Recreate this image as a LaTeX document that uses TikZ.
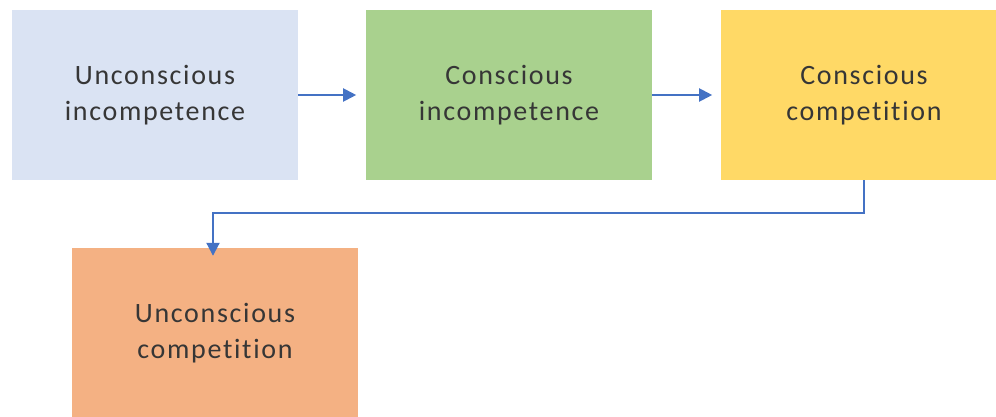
\documentclass[tikz,border=0pt]{standalone}
\usepackage{fontspec}
\setmainfont{Carlito}[LetterSpace=6,Ligatures=NoCommon]
\usetikzlibrary{arrows.meta}
\definecolor{bluebox}{HTML}{DAE3F3}
\definecolor{greenbox}{HTML}{A9D18E}
\definecolor{yellowbox}{HTML}{FFD966}
\definecolor{orangebox}{HTML}{F4B183}
\definecolor{arrowblue}{HTML}{4472C4}
\definecolor{txt}{HTML}{363636}
\tikzset{
  stagebox/.style={rectangle, minimum width=286pt, minimum height=170pt, inner sep=0pt,
    align=center, text=txt, font=\fontsize{28}{36}\selectfont},
  flowarrow/.style={draw=arrowblue, line width=2pt, -{Triangle[length=13pt,width=13pt]}}
}
\begin{document}
\begin{tikzpicture}[x=1pt,y=-1pt]
\useasboundingbox (0,0) rectangle (996,417);
\clip (0,0) rectangle (996,417);
\node[stagebox, fill=bluebox] (a) at (155,95) {Unconscious\\incompetence};
\node[stagebox, fill=greenbox] (b) at (509,95) {Conscious\\incompetence};
\node[stagebox, fill=yellowbox] (c) at (864,95) {Conscious\\competition};
\node[stagebox, fill=orangebox] (d) at (215,333) {Unconscious\\competition};
\draw[flowarrow] (a.east |- 0,95) -- ++(58,0) coordinate (ab);
\draw[flowarrow] (b.east |- 0,95) -- ++(60,0) coordinate (bc);
\draw[flowarrow] (c.south) -- ++(0,33) -| ([xshift=-2pt,yshift=-8pt]d.north);
\end{tikzpicture}
\end{document}
